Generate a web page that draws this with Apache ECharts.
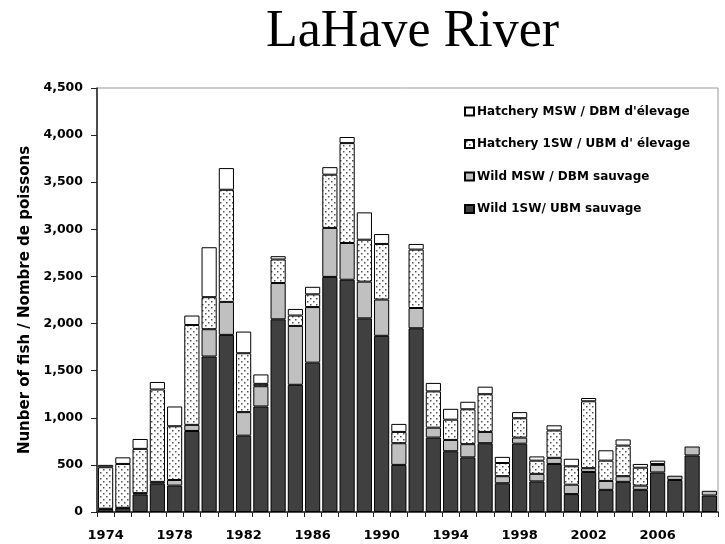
<!DOCTYPE html>
<html>
<head>
<meta charset="utf-8">
<script src="https://cdn.jsdelivr.net/npm/echarts@6/dist/echarts.min.js"></script>
<style>html,body{margin:0;padding:0;background:#fff;}#c{width:725px;height:544px;}</style>
</head>
<body>
<div id="c"></div>
<script>
var years = ['1974','1975','1976','1977','1978','1979','1980','1981','1982','1983','1984','1985','1986','1987','1988','1989','1990','1991','1992','1993','1994','1995','1996','1997','1998','1999','2000','2001','2002','2003','2004','2005','2006','2007','2008','2009'];
var wild1SW = [30,40,185,300,280,860,1650,1880,810,1120,2045,1350,1585,2495,2465,2055,1870,500,1950,790,645,580,730,305,725,325,510,190,425,235,320,235,420,340,600,175];
var wildMSW = [5,5,15,20,60,65,290,350,250,215,385,625,590,520,390,390,385,230,215,105,120,140,120,75,65,80,65,100,40,95,60,45,80,45,95,50];
var hatch1SW = [440,465,470,980,570,1060,340,1190,625,25,250,110,135,565,1060,445,590,120,620,385,215,370,400,140,205,140,290,195,710,215,325,190,10,null,null,null];
var hatchMSW = [25,70,105,80,210,100,530,230,230,100,35,70,80,80,65,290,105,85,60,90,115,80,80,65,65,45,55,80,35,110,65,40,35,null,null,null];
var yTickLabels = ['0','500','1,000','1,500','2,000','2,500','3,000','3,500','4,000','4,500'];
var seriesNames = ['Wild 1SW/ UBM sauvage','Wild MSW / DBM sauvage','Hatchery 1SW / UBM d\' élevage','Hatchery MSW / DBM d\'élevage'];

var pc = document.createElement('canvas');
pc.width = 6; pc.height = 6;
var pctx = pc.getContext('2d');
pctx.fillStyle = '#fff'; pctx.fillRect(0,0,6,6);
pctx.fillStyle = '#555';
pctx.fillRect(1,1,1.5,1.5);
pctx.fillRect(4,4,1.5,1.5);

var chart = echarts.init(document.getElementById('c'), null, {renderer:'canvas'});
var sans = 'DejaVu Sans';
function bar(name, data, color) {
  return {
    name: name, type: 'bar', stack: 'a', data: data,
    barCategoryGap: '12%',
    itemStyle: {color: color, borderColor: '#000', borderWidth: 1},
    emphasis: {disabled: true}
  };
}
chart.setOption({
  animation: false,
  backgroundColor: '#fff',
  title: {
    text: 'LaHave River', left: 266, top: 6, padding: 0,
    textStyle: {fontFamily: 'Liberation Serif', fontSize: 52, fontWeight: 'normal', color: '#000'}
  },
  legend: {
    orient: 'vertical', left: 464, top: 104.5, padding: 0, itemWidth: 9, itemHeight: 8, itemGap: 18.5,
    data: [seriesNames[3], seriesNames[2], seriesNames[1], seriesNames[0]],
    textStyle: {fontFamily: sans, fontWeight: 'bold', fontSize: 12, color: '#000', lineHeight: 14, padding: [0,0,0,-2]},
    icon: 'rect'
  },
  grid: {left: 97, right: 7, top: 88, bottom: 32, show: true, borderColor: '#999', borderWidth: 1},
  xAxis: {
    type: 'category', data: years,
    axisLine: {lineStyle: {color: '#222', width: 1.5}},
    axisTick: {show: true, interval: 0, length: 5, lineStyle: {color: '#222'}},
    axisLabel: {interval: 3, margin: 17, fontFamily: sans, fontWeight: 'bold', fontSize: 13, color: '#000'}
  },
  yAxis: {
    type: 'value', min: 0, max: 4500, interval: 500,
    name: 'Nunber of fish / Nombre de poissons', nameLocation: 'middle', nameGap: 58,
    nameTextStyle: {fontFamily: sans, fontWeight: 'bold', fontSize: 15, color: '#000'},
    axisLine: {show: true, lineStyle: {color: '#222', width: 1.5}},
    axisTick: {show: true, length: 6, lineStyle: {color: '#222'}},
    splitLine: {show: false},
    axisLabel: {margin: 14, fontFamily: sans, fontWeight: 'bold', fontSize: 12.5, color: '#000',
      formatter: function (v) { return yTickLabels[Math.round(v / 500)]; }}
  },
  series: [
    bar(seriesNames[0], wild1SW, '#404040'),
    bar(seriesNames[1], wildMSW, '#c0c0c0'),
    bar(seriesNames[2], hatch1SW, {image: pc, repeat: 'repeat'}),
    bar(seriesNames[3], hatchMSW, '#ffffff')
  ]
});
</script>
</body>
</html>
